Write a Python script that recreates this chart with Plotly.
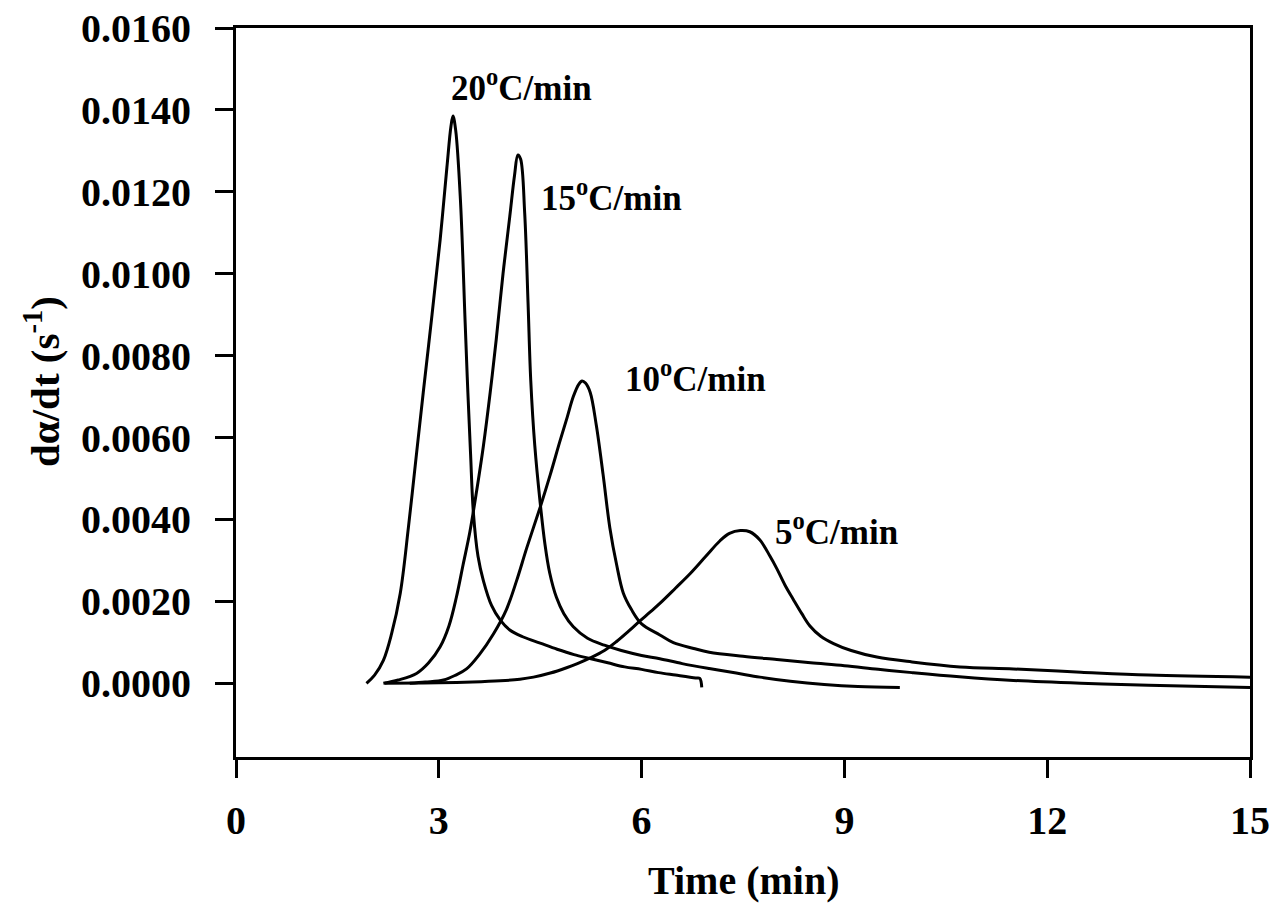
import plotly.graph_objects as go

# ---- data ----
t20 = [1.93, 2.05, 2.18, 2.30, 2.43, 2.55, 2.67, 2.77, 2.90, 3.02, 3.12, 3.18, 3.21, 3.25, 3.32,
       3.39, 3.43, 3.47, 3.51, 3.58, 3.66, 3.78, 3.91, 4.05, 4.25, 4.50, 4.75, 5.00, 5.25, 5.50,
       5.75, 6.00, 6.25, 6.50, 6.80, 6.86, 6.89]
y20 = [0.0, 0.0002, 0.00056, 0.0012, 0.0022, 0.0038, 0.0056, 0.0071, 0.0090, 0.01083, 0.0126,
       0.0136, 0.01385, 0.0135, 0.0118, 0.0088, 0.0071, 0.0056, 0.0042, 0.0031, 0.0025, 0.0019,
       0.00154, 0.0013, 0.00113, 0.00098, 0.00083, 0.0007, 0.0006, 0.0005, 0.0004, 0.00034,
       0.00026, 0.0002, 0.00013, 0.00012, -0.0001]

t15 = [2.18, 2.40, 2.67, 2.85, 3.02, 3.15, 3.26, 3.36, 3.46, 3.56, 3.66, 3.76, 3.85, 3.95, 4.05,
       4.12, 4.17, 4.21, 4.27, 4.32, 4.36, 4.42, 4.50, 4.57, 4.64, 4.74, 4.85, 4.99, 5.20, 5.45,
       5.70, 6.00, 6.27, 6.60, 7.00, 7.40, 7.75, 8.20, 8.70, 9.20, 9.82]
y15 = [0.0, 0.00008, 0.00024, 0.0005, 0.00089, 0.0014, 0.0021, 0.0029, 0.0037, 0.0047, 0.0058,
       0.0071, 0.0084, 0.0100, 0.0114, 0.0124, 0.0129, 0.0128, 0.0115, 0.0093, 0.0074, 0.0058,
       0.0044, 0.0034, 0.0027, 0.0021, 0.0017, 0.00138, 0.0011, 0.00093, 0.0008, 0.00068,
       0.0006, 0.00048, 0.00036, 0.00025, 0.00015, 0.00005, -0.00003, -0.00008, -0.0001]

t10 = [2.57, 2.80, 3.07, 3.25, 3.41, 3.60, 3.81, 4.00, 4.15, 4.30, 4.50, 4.65, 4.79, 4.90, 4.99,
       5.07, 5.12, 5.17, 5.24, 5.33, 5.43, 5.53, 5.63, 5.73, 5.85, 6.00, 6.27, 6.47, 6.77,
       7.00, 7.50, 8.00, 8.50, 9.00, 9.50, 10.00, 10.70, 11.50, 12.50, 13.50, 15.00]
y10 = [0.0, 0.00003, 0.00008, 0.0002, 0.00035, 0.0007, 0.00121, 0.0018, 0.0025, 0.0033, 0.0043,
       0.0051, 0.0059, 0.0065, 0.0070, 0.0073, 0.00738, 0.00733, 0.0071, 0.0063, 0.0051, 0.0038,
       0.0029, 0.0022, 0.0018, 0.00145, 0.00118, 0.00099, 0.00085, 0.00076, 0.00066,
       0.00058, 0.0005, 0.00043, 0.00034, 0.00026, 0.00016, 0.00007, 0.0, -0.00005, -0.0001]

t5 = [2.20, 3.00, 3.50, 3.91, 4.20, 4.40, 4.65, 4.89, 5.05, 5.24, 5.45, 5.63, 5.80, 5.98, 6.12,
      6.27, 6.50, 6.72, 6.95, 7.16, 7.30, 7.46, 7.60, 7.75, 7.90, 8.00, 8.12, 8.25, 8.37, 8.49,
      8.65, 8.84, 9.10, 9.48, 10.00, 10.71, 11.50, 12.50, 13.50, 15.00]
y5 = [0.0, 0.00001, 0.00003, 0.00006, 0.0001, 0.00015, 0.00025, 0.00038, 0.00048, 0.00062, 0.0008,
      0.00102, 0.00126, 0.00153, 0.00173, 0.00195, 0.00232, 0.00268, 0.0031, 0.00348, 0.00366,
      0.00373, 0.0037, 0.0035, 0.0031, 0.0028, 0.0024, 0.00203, 0.0017, 0.0014, 0.00115, 0.00097,
      0.0008, 0.00064, 0.00052, 0.0004, 0.00035, 0.00027, 0.0002, 0.00015]

labels = ["20<sup>o</sup>C/min", "15<sup>o</sup>C/min", "10<sup>o</sup>C/min", "5<sup>o</sup>C/min"]
label_x = [4.22, 5.55, 6.79, 8.88]
label_y = [0.0146, 0.0119, 0.0075, 0.00375]

x_ticks = [0, 3, 6, 9, 12, 15]
y_ticks = [0.0, 0.002, 0.004, 0.006, 0.008, 0.010, 0.012, 0.014, 0.016]

FONT = "Liberation Serif"

fig = go.Figure()
for tt, yy in [(t20, y20), (t15, y15), (t10, y10), (t5, y5)]:
    fig.add_trace(go.Scatter(x=tt, y=yy, mode="lines",
                             line=dict(color="black", width=3, shape="spline", smoothing=1.0),
                             showlegend=False, hoverinfo="skip"))

for txt, lx, ly in zip(labels, label_x, label_y):
    fig.add_annotation(x=lx, y=ly, text=txt, showarrow=False, xanchor="center", yanchor="middle",
                       font=dict(family=FONT, size=35, color="black", weight="bold"))

fig.add_annotation(xref="paper", yref="paper", x=(743 - 236) / 1014, y=(757 - 880) / 729,
                   text="Time (min)", showarrow=False, xanchor="center", yanchor="middle",
                   font=dict(family=FONT, size=40, color="black", weight="bold"))
fig.add_annotation(xref="paper", yref="paper", x=(42 - 236) / 1014, y=(757 - 382) / 729,
                   text="dα/dt (s<sup>-1</sup>)", showarrow=False, textangle=-90,
                   xanchor="center", yanchor="middle",
                   font=dict(family=FONT, size=41, color="black", weight="bold"))

axis_common = dict(showline=True, linecolor="black", linewidth=3, mirror=True,
                   showgrid=False, zeroline=False, ticks="outside", ticklen=18, tickwidth=3,
                   tickcolor="black", automargin=False,
                   tickfont=dict(family=FONT, size=40, color="black", weight="bold"))

fig.update_xaxes(range=[0, 15], tickvals=x_ticks, ticktext=[str(v) for v in x_ticks],
                 ticklabelstandoff=8, **axis_common)
fig.update_yaxes(range=[-0.0018, 0.016], tickvals=y_ticks, tickformat=".4f",
                 ticklabelstandoff=16, **axis_common)

fig.update_layout(width=1275, height=921, autosize=False,
                  margin=dict(l=236, r=25, t=28, b=164, autoexpand=False),
                  paper_bgcolor="white", plot_bgcolor="white")

fig.write_html("out.html")
